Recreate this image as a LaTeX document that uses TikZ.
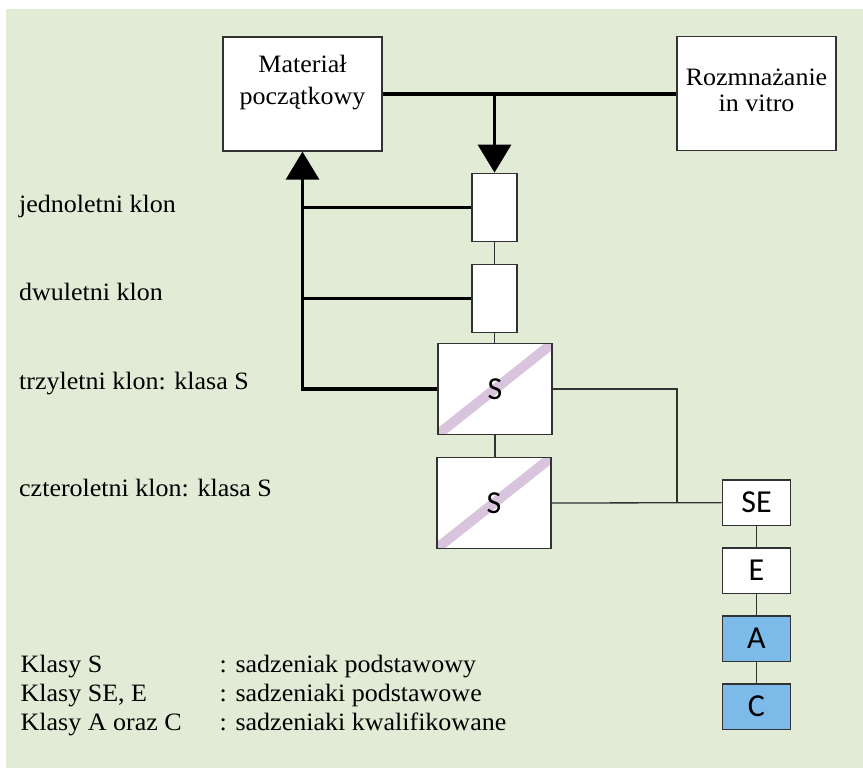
\documentclass[tikz,border=0pt]{standalone}
\usepackage{fontspec}
\setmainfont{Liberation Serif}[FakeStretch=1.04]
\newfontfamily\boxfont{Carlito}
\usetikzlibrary{arrows.meta}

\definecolor{panel}{RGB}{226,235,213}
\definecolor{stripe}{RGB}{216,196,220}
\definecolor{cert}{RGB}{124,186,234}
\definecolor{edge}{RGB}{50,50,50}

\tikzset{
  box/.style={draw=edge, line width=1.3pt, fill=white, inner sep=0pt,
    font=\boxfont\fontsize{32}{34}\selectfont},
  smallbox/.style={box, minimum width=45pt, minimum height=68.5pt},
  sbox/.style={box, minimum width=114pt, minimum height=90.5pt,
    path picture={\draw[stripe, line width=10pt]
      (path picture bounding box.south west) -- (path picture bounding box.north east);}},
  classbox/.style={box, minimum width=68.5pt, minimum height=45.3pt},
  bigbox/.style={box, minimum width=159pt, minimum height=114pt},
  lbl/.style={inner sep=0pt, font=\fontsize{25}{29}\selectfont, text=black},
  thickline/.style={line width=3.2pt, black},
  thinline/.style={line width=1.3pt, edge},
  bigtip/.style={-{Triangle[width=33pt,length=28pt]}}
}

\begin{document}
\begin{tikzpicture}[x=1pt,y=-1pt]
  \useasboundingbox (0,0) rectangle (863,768);
  \fill[white] (0,0) rectangle (863,768);
  \fill[panel] (6,9) rectangle (863,768);

  % top row
  \node[bigbox] (mat) at (302.5,94) {};
  \node[bigbox] (viv) at (756.5,93.5) {};
  \node[lbl, anchor=base] (matA) at (302.5,72.7) {Materiał};
  \node[lbl, anchor=base] (matB) at (302.5,104) {początkowy};
  \node[lbl, anchor=base] (vivA) at (756.5,85) {Rozmnażanie};
  \node[lbl, anchor=base] (vivB) at (756.5,111.7) {in vitro};

  % clone chain
  \node[smallbox] (j1) at (494.5,207.5) {};
  \node[smallbox] (j2) at (494.5,298.5) {};
  \node[sbox] (s1) at (495,389) {S};
  \node[sbox] (s2) at (494,503) {S};

  % class chain
  \node[classbox] (se) at (756.5,502.7) {SE};
  \node[classbox] (e)  at (756.5,570.7) {E};
  \node[classbox, fill=cert] (a) at (756.5,638.7) {A};
  \node[classbox, fill=cert] (c) at (756.5,706.7) {C};
  \coordinate (fork) at (677,502.7);

  % row labels
  \node[lbl, anchor=base west] (l1) at (19,212.3) {jednoletni klon};
  \node[lbl, anchor=base west] (l2) at (19,300) {dwuletni klon};
  \node[lbl, anchor=base west] (l3) at (19,389.3) {trzyletni klon: klasa S};
  \node[lbl, anchor=base west] (l4) at (19,496.7) {czteroletni klon: klasa S};

  % legend
  \node[lbl, anchor=base west] (k1) at (20.5,672.3) {Klasy S};
  \node[lbl, anchor=base west] (k2) at (20.5,701.7) {Klasy SE, E};
  \node[lbl, anchor=base west] (k3) at (20.5,730.7) {Klasy A oraz C};
  \node[lbl, anchor=base west] (d1) at (219.5,672.3) {: sadzeniak podstawowy};
  \node[lbl, anchor=base west] (d2) at (219.5,701.7) {: sadzeniaki podstawowe};
  \node[lbl, anchor=base west] (d3) at (219.5,730.7) {: sadzeniaki kwalifikowane};

  % propagation link and feed into the first clone year
  \draw[thickline] (mat.east) -- (mat.east -| viv.west);
  \draw[thickline, bigtip] (mat.east -| j1.north) -- (j1.north);

  % return of clones to the initial material
  \draw[thickline, bigtip] (s1.west) -| (mat.south);
  \draw[thickline] (j1.west) -- (j1.west -| mat.south);
  \draw[thickline] (j2.west) -- (j2.west -| mat.south);

  % year-to-year succession
  \draw[thinline] (j1.south) -- (j2.north);
  \draw[thinline] (j2.south) -- (j2.south |- s1.north);
  \draw[thinline] (s1.south) -- (s1.south |- s2.north);

  % S stock into the class chain
  \draw[thinline] (s1.east) -| (fork);
  \draw[thinline] (s2.east) -- (se.west);
  \draw[thinline] (se.south) -- (e.north);
  \draw[thinline] (e.south) -- (a.north);
  \draw[thinline] (a.south) -- (c.north);
\end{tikzpicture}
\end{document}
